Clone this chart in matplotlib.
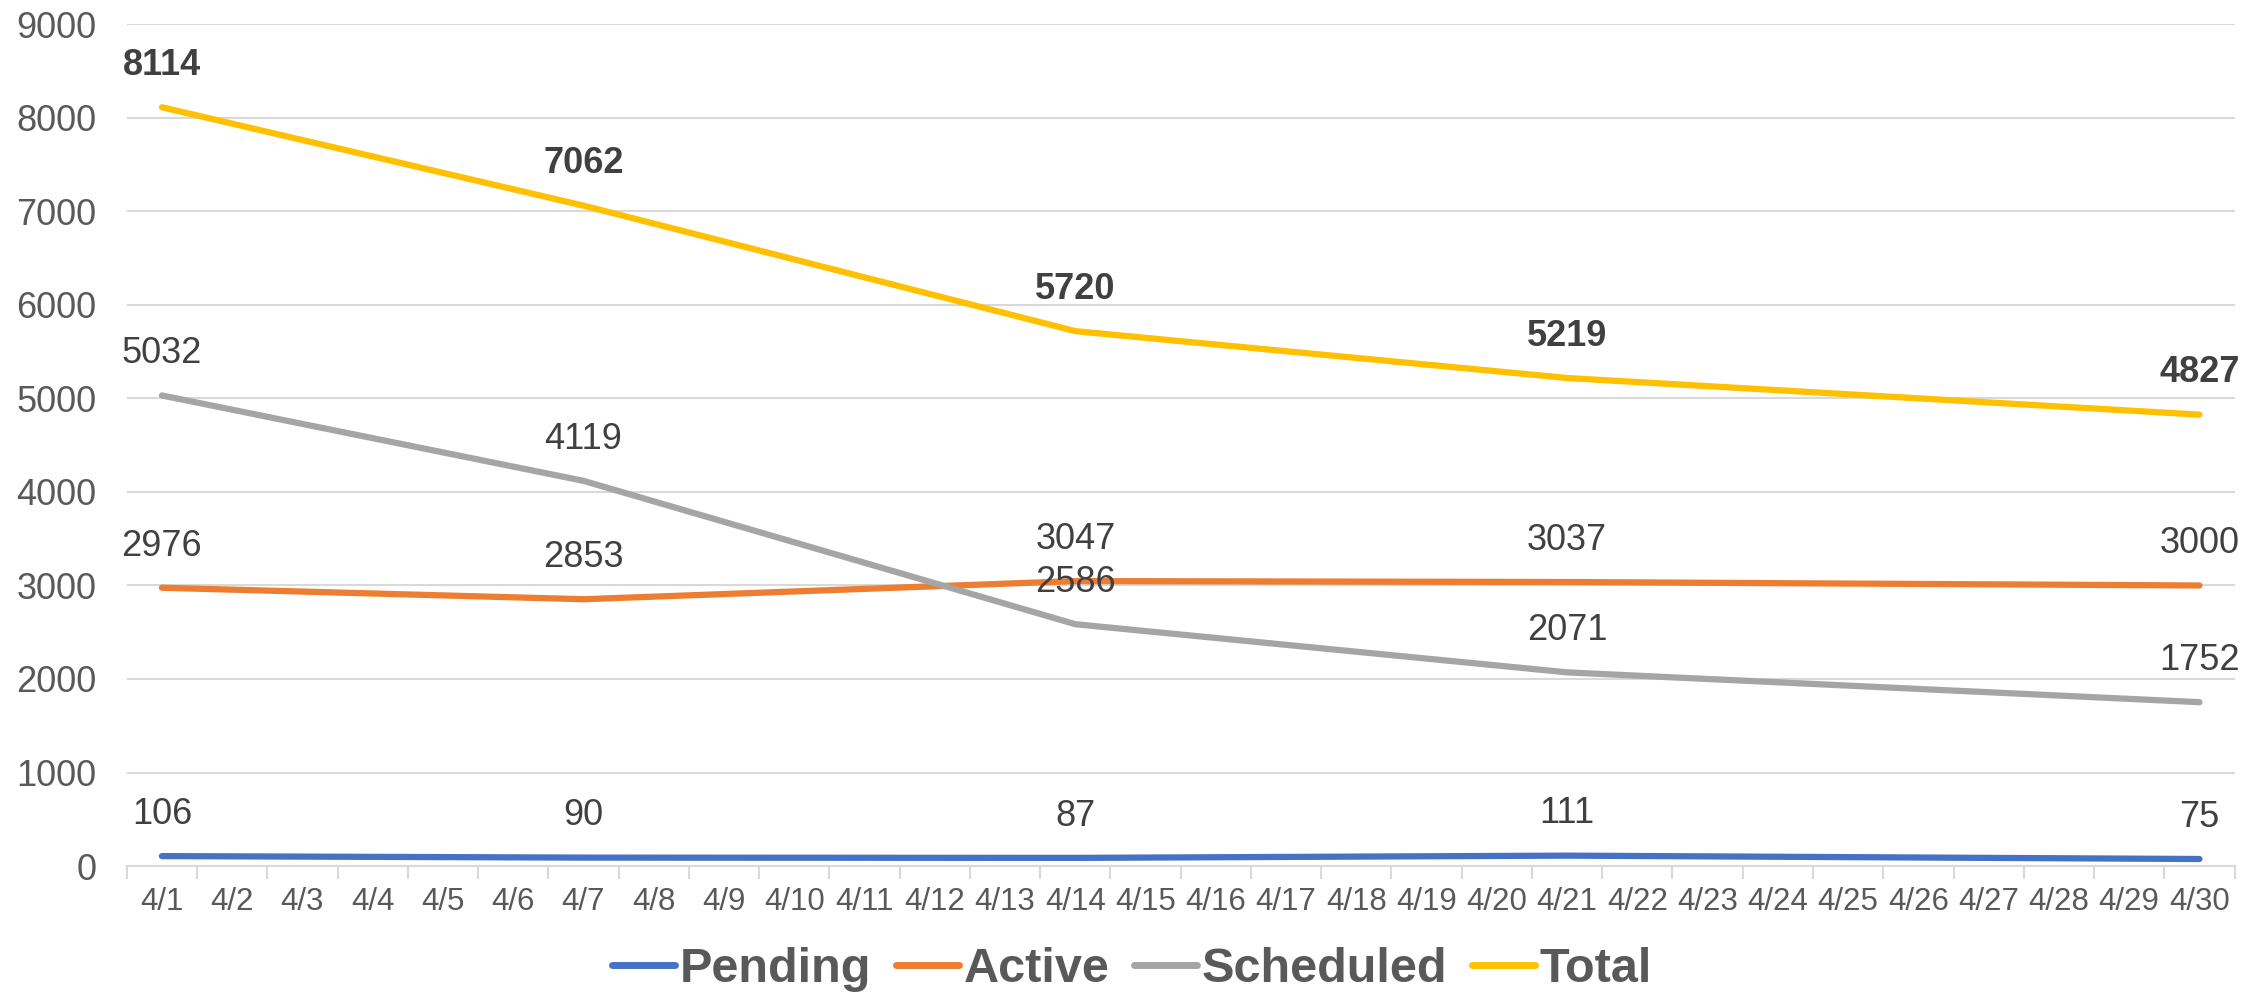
import numpy as np
import matplotlib
matplotlib.use("Agg")
import matplotlib.pyplot as plt
from matplotlib.ticker import FixedLocator

plt.rcParams['font.family'] = ['Liberation Sans', 'DejaVu Sans']

# ---- data ----
days = [f"4/{d}" for d in range(1, 31)]
point_days = ["4/1", "4/7", "4/14", "4/21", "4/30"]

pending = [106, 90, 87, 111, 75]
active = [2976, 2853, 3047, 3037, 3000]
scheduled = [5032, 4119, 2586, 2071, 1752]
total = [8114, 7062, 5720, 5219, 4827]

series = [
    ("Pending", pending, "#4472C4", False),
    ("Active", active, "#ED7D31", False),
    ("Scheduled", scheduled, "#A5A5A5", False),
    ("Total", total, "#FFC000", True),
]

# ---- plot ----
fig = plt.figure(figsize=(22.64, 9.96), dpi=100)
ax = fig.add_axes([0.056, 0.1305, 0.931, 0.845])

xpos = [days.index(d) for d in point_days]

for name, vals, color, bold in series:
    ax.plot(xpos, vals, color=color, lw=4.5, solid_capstyle="round",
            solid_joinstyle="round", label=name, zorder=3)
    for x, v in zip(xpos, vals):
        ax.annotate(str(v), (x, v), xytext=(0, 30), textcoords="offset points",
                    ha="center", va="center", fontsize=26, color="#404040",
                    fontweight="bold" if bold else "normal", zorder=4)

ax.set_xlim(-0.5, len(days) - 0.5)
ax.set_ylim(0, 9000)
ax.set_yticks(np.arange(0, 9001, 1000))
ax.set_xticks(range(len(days)))
ax.set_xticklabels(days)
ax.xaxis.set_minor_locator(FixedLocator(np.arange(-0.5, len(days), 1)))

ax.grid(axis="y", color="#D9D9D9", lw=1.5, zorder=0)
ax.set_axisbelow(True)
for s in ["top", "right", "left"]:
    ax.spines[s].set_visible(False)
ax.spines["bottom"].set_color("#D9D9D9")
ax.spines["bottom"].set_linewidth(1.5)

ax.tick_params(axis="y", length=0, pad=22, labelsize=26, labelcolor="#595959")
ax.tick_params(axis="x", which="major", length=0, pad=15, labelsize=22.5,
               labelcolor="#595959")
ax.tick_params(axis="x", which="minor", length=9, width=1.5, color="#D9D9D9")

leg = fig.legend(loc="center", bbox_to_anchor=(0.5, 0.027), ncol=4,
                 frameon=False, handlelength=1.3, handletextpad=0.1,
                 columnspacing=0.5, prop={"size": 35, "weight": "bold"})
for t in leg.get_texts():
    t.set_color("#595959")
for h in leg.get_lines():
    h.set_linewidth(5)

fig.savefig("out.png", dpi=100)
